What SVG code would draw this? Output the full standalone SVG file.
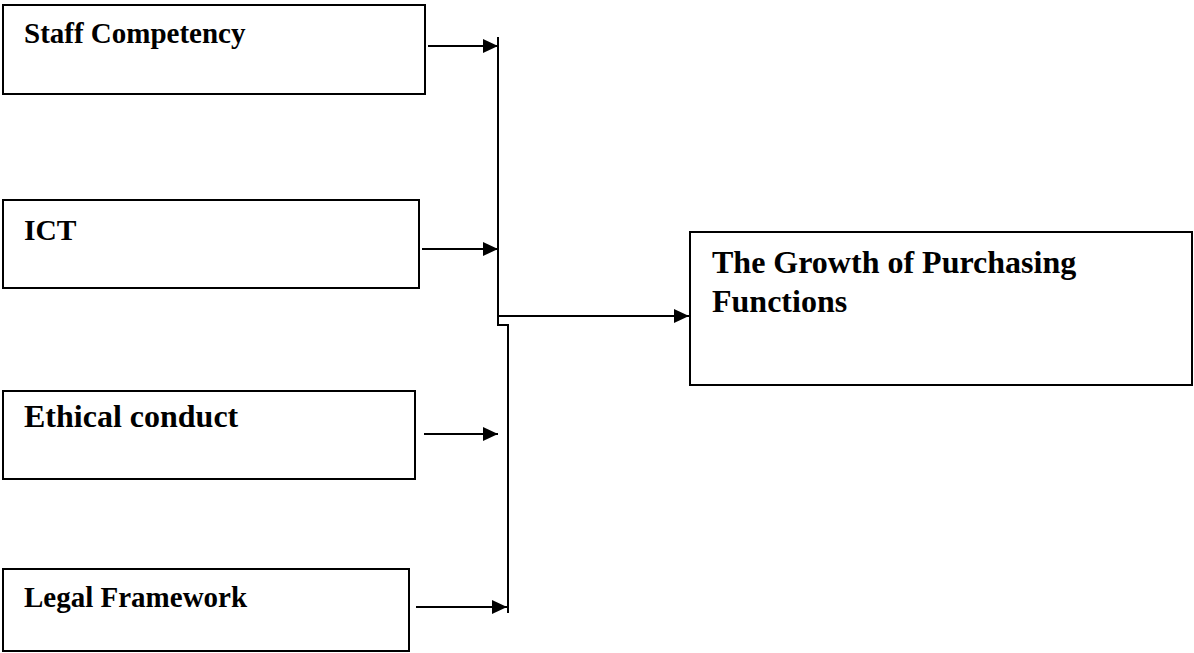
<svg xmlns="http://www.w3.org/2000/svg" width="1194" height="653" viewBox="0 0 1194 653">
<style>
.box{fill:#fff;stroke:#000;stroke-width:2}
.lbl{font-family:"Liberation Serif","Times New Roman",serif;font-weight:bold;fill:#000}
.con{fill:none;stroke:#000;stroke-width:2}
</style>
<defs>
<marker id="ah" markerUnits="userSpaceOnUse" markerWidth="15" markerHeight="14" refX="15" refY="7" orient="auto" viewBox="0 0 15 14">
<path d="M0,0 L15,7 L0,14 z" fill="#000"/>
</marker>
</defs>
<rect width="1194" height="653" fill="#fff"/>
<g id="staff">
<rect class="box" x="3" y="5" width="422" height="89"/>
<text class="lbl" x="24" y="43" font-size="29">Staff Competency</text>
</g>
<g id="ict">
<rect class="box" x="3" y="200" width="416" height="88"/>
<text class="lbl" x="24" y="240" font-size="29.5">ICT</text>
</g>
<g id="ethical">
<rect class="box" x="3" y="391" width="412" height="88"/>
<text class="lbl" x="24" y="427" font-size="32">Ethical conduct</text>
</g>
<g id="legal">
<rect class="box" x="3" y="569" width="406" height="82"/>
<text class="lbl" x="24" y="607" font-size="29">Legal Framework</text>
</g>
<g id="growth">
<rect class="box" x="690" y="232" width="502" height="153"/>
<text class="lbl" x="712" y="273" font-size="32">The Growth of Purchasing</text>
<text class="lbl" x="712" y="312" font-size="32">Functions</text>
</g>
<g id="connectors">
<path class="con" d="M498 37 V325 H508 V613"/>
<line class="con" x1="428" y1="46" x2="498" y2="46" marker-end="url(#ah)"/>
<line class="con" x1="422" y1="249" x2="498" y2="249" marker-end="url(#ah)"/>
<line class="con" x1="424" y1="434" x2="498" y2="434" marker-end="url(#ah)"/>
<line class="con" x1="416" y1="607" x2="507" y2="607" marker-end="url(#ah)"/>
<line class="con" x1="499" y1="316" x2="689" y2="316" marker-end="url(#ah)"/>
</g>
</svg>
